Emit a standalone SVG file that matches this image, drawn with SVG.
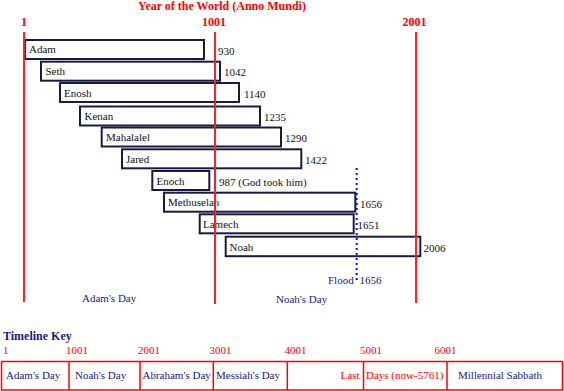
<svg xmlns="http://www.w3.org/2000/svg" width="564" height="391" viewBox="0 0 564 391">
<style>
.t{font-family:"Liberation Serif","Times New Roman",serif;font-size:11px;fill:#111}
.hd{font-family:"Liberation Serif","Times New Roman",serif;font-size:12px;font-weight:bold;fill:#ff0000}
.box{fill:#fff;stroke:#1a1a40;stroke-width:2}
.era{stroke:#ff2020;stroke-width:2}
.nv{font-family:"Liberation Serif","Times New Roman",serif;font-size:11px;fill:#1a1a80}
.rd{font-family:"Liberation Serif","Times New Roman",serif;font-size:11px;fill:#ff0000}
.cell{fill:none;stroke:#ff0000;stroke-width:1.5}
</style>
<rect width="564" height="391" fill="#fff"/>
<text class="hd" x="222" y="10" text-anchor="middle">Year of the World (Anno Mundi)</text>
<text class="hd" x="24" y="26" text-anchor="middle">1</text>
<text class="hd" x="214" y="26" text-anchor="middle">1001</text>
<text class="hd" x="414.5" y="26" text-anchor="middle">2001</text>

<g id="adam"><rect class="box" x="25" y="40" width="179" height="19"/><text class="t" x="29" y="53">Adam</text><text class="t" x="218" y="54.5">930</text></g>
<g id="seth"><rect class="box" x="41" y="61.7" width="179" height="19"/><text class="t" x="45.5" y="75">Seth</text><text class="t" x="224" y="76">1042</text></g>
<g id="enosh"><rect class="box" x="60" y="83" width="179" height="19"/><text class="t" x="64" y="96.5">Enosh</text><text class="t" x="244" y="97.5">1140</text></g>
<g id="kenan"><rect class="box" x="80" y="106.5" width="180" height="19"/><text class="t" x="84.5" y="120">Kenan</text><text class="t" x="264" y="121">1235</text></g>
<g id="mahalalel"><rect class="box" x="101.7" y="127.5" width="179.3" height="19"/><text class="t" x="106" y="141">Mahalalel</text><text class="t" x="285" y="142">1290</text></g>
<g id="jared"><rect class="box" x="122" y="149.3" width="179.3" height="19"/><text class="t" x="126" y="162.5">Jared</text><text class="t" x="305" y="164">1422</text></g>
<g id="enoch"><rect class="box" x="152.3" y="171" width="57" height="19"/><text class="t" x="156.5" y="184.5">Enoch</text><text class="t" x="219" y="186">987 (God took him)</text></g>
<g id="methuselah"><rect class="box" x="164" y="192.7" width="191.3" height="19"/><text class="t" x="168" y="206">Methuselah</text><text class="t" x="360" y="207.5">1656</text></g>
<g id="lamech"><rect class="box" x="199.7" y="214.3" width="154" height="19"/><text class="t" x="203" y="228">Lamech</text><text class="t" x="357.5" y="229">1651</text></g>
<g id="noah"><rect class="box" x="225.7" y="236.7" width="194.6" height="19.5"/><text class="t" x="229.5" y="251">Noah</text><text class="t" x="423.5" y="251.5">2006</text></g>

<g id="connectors">
<line class="era" x1="24" y1="32" x2="24" y2="302"/>
<line class="era" x1="215" y1="32" x2="215" y2="304"/>
<line class="era" x1="416" y1="32" x2="416" y2="303"/>
<line x1="356.7" y1="168" x2="356.7" y2="282" stroke="#1010e0" stroke-width="2" stroke-dasharray="2 3"/>
</g>
<g id="flood"><text class="nv" x="328" y="284">Flood</text><text class="nv" x="359.5" y="284">1656</text></g>
<text class="nv" x="82" y="302">Adam's Day</text>
<text class="nv" x="276" y="303">Noah's Day</text>

<g id="key">
<text x="3" y="340" font-family="Liberation Serif, Times New Roman, serif" font-size="12" font-weight="bold" fill="#1a1a80">Timeline Key</text>
<text class="rd" x="3" y="354">1</text>
<text class="rd" x="66" y="354">1001</text>
<text class="rd" x="138" y="354">2001</text>
<text class="rd" x="209.5" y="354">3001</text>
<text class="rd" x="284.5" y="354">4001</text>
<text class="rd" x="360" y="354">5001</text>
<text class="rd" x="434.5" y="354">6001</text>
<rect class="cell" x="1.5" y="361.5" width="561" height="28.5"/>
<line class="cell" x1="69" y1="361.5" x2="69" y2="390"/>
<line class="cell" x1="140" y1="361.5" x2="140" y2="390"/>
<line class="cell" x1="213.3" y1="361.5" x2="213.3" y2="390"/>
<line class="cell" x1="287.3" y1="361.5" x2="287.3" y2="390"/>
<line class="cell" x1="363.5" y1="361.5" x2="363.5" y2="390"/>
<line class="cell" x1="447" y1="361.5" x2="447" y2="390"/>
<text class="nv" x="6" y="379">Adam's Day</text>
<text class="nv" x="75" y="379">Noah's Day</text>
<text class="nv" x="142.5" y="379">Abraham's Day</text>
<text class="nv" x="216" y="379">Messiah's Day</text>
<text class="rd" x="359.5" y="379" text-anchor="end">Last</text>
<text class="rd" x="366" y="379">Days (now-5761)</text>
<text class="nv" x="458" y="379">Millennial Sabbath</text>
</g>
</svg>
